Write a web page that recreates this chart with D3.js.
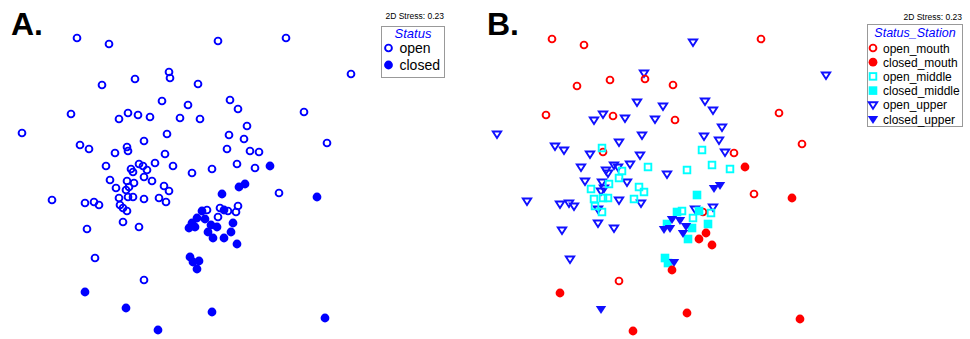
<!DOCTYPE html>
<html>
<head>
<meta charset="utf-8">
<script src="https://cdn.jsdelivr.net/npm/d3@7"></script>
<style>
  body { margin: 0; background: #fff; }
  svg { display: block; font-family: Arial, "Liberation Sans", sans-serif; }
</style>
</head>
<body>
<svg id="chart" width="970" height="339"></svg>
<script>
// NMDS ordination scores, one entry per sample
const nmds1 = [
  -1.13, -0.81, 0.28, 0.96, 1.61, -0.21, -0.20, -0.55, -0.88, 0.08,
  -0.28, -0.02, 0.40, 0.48, -1.19, -0.62, -0.71, -0.52, -0.40, -0.10,
  0.10, 1.14, -1.68, -0.23, 0.57, 0.39, 0.54, -1.10, -1.01, -0.63,
  -0.62, -0.46, -0.75, -0.25, -0.84, -0.59, -0.57, -0.51, -0.47, -0.35,
  -0.17, -0.43, -0.46, -0.80, -0.63, -0.56, -0.38, -0.74, -0.64, -0.61,
  -0.26, -0.21, -1.38, -1.05, -0.96, -0.91, -0.71, -0.62, -0.57, -0.46,
  -0.31, -0.24, -0.70, -0.67, -0.63, -0.67, -0.51, -1.03, -0.95, -0.46,
  0.37, 0.60, 0.69, 1.37, 0.22, 0.47, 0.65, 0.02, 0.89, 0.17,
  0.30, 0.38, 0.48, 0.46, 0.28,
  0.80, 1.27, 0.32, 0.49, 0.55, 0.12, 0.34, 0.07, 0.15, 0.02,
  -0.01, 0.05, 0.21, 0.27, 0.43, 0.18, 0.23, 0.34, 0.41, 0.47,
  0.00, 0.03, 0.09, 0.07, -1.05, -0.64, 0.22, 1.35, -0.32
];
const nmds2 = [
  1.37, 1.31, 1.34, 1.37, 1.01, 1.03, 0.97, 0.96, 0.90, 0.91,
  0.74, 0.70, 0.75, 0.66, 0.61, 0.62, 0.56, 0.60, 0.58, 0.57,
  0.56, 0.63, 0.42, 0.41, 0.49, 0.40, 0.36, 0.30, 0.26, 0.28,
  0.24, 0.34, 0.22, 0.21, 0.09, 0.06, 0.03, 0.11, 0.09, 0.12,
  0.09, 0.05, -0.02, -0.05, -0.06, -0.08, -0.06, -0.13, -0.15, -0.12,
  -0.11, -0.16, -0.25, -0.28, -0.27, -0.30, -0.23, -0.22, -0.22, -0.24,
  -0.23, -0.27, -0.30, -0.33, -0.36, -0.47, -0.52, -0.54, -0.83, -1.05,
  0.26, 0.24, 0.23, 0.32, 0.06, 0.11, 0.07, 0.02, -0.18, -0.35,
  -0.33, -0.36, -0.31, -0.37, -0.42,
  0.09, -0.22, -0.19, -0.12, -0.09, -0.36, -0.35, -0.43, -0.44, -0.48,
  -0.53, -0.52, -0.50, -0.52, -0.48, -0.57, -0.63, -0.63, -0.57, -0.69,
  -0.82, -0.87, -0.86, -0.94, -1.17, -1.33, -1.37, -1.43, -1.55
];
const status = d3.range(85).map(() => 'open').concat(d3.range(29).map(() => 'closed'));
const station = [
  'mouth', 'mouth', 'upper', 'mouth', 'upper', 'upper', 'mouth', 'mouth', 'mouth', 'mouth',
  'upper', 'upper', 'upper', 'upper', 'mouth', 'upper', 'upper', 'mouth', 'upper', 'upper',
  'mouth', 'mouth', 'upper', 'upper', 'upper', 'upper', 'upper', 'upper', 'upper', 'middle',
  'mouth', 'upper', 'upper', 'upper', 'upper', 'upper', 'upper', 'upper', 'upper', 'upper',
  'middle', 'middle', 'middle', 'upper', 'upper', 'middle', 'upper', 'middle', 'upper', 'upper',
  'middle', 'middle', 'upper', 'upper', 'upper', 'upper', 'middle', 'middle', 'middle', 'upper',
  'middle', 'upper', 'middle', 'upper', 'middle', 'upper', 'upper', 'upper', 'upper', 'mouth',
  'middle', 'upper', 'mouth', 'mouth', 'middle', 'middle', 'middle', 'upper', 'mouth', 'middle',
  'upper', 'mouth', 'upper', 'middle', 'middle',
  'mouth', 'mouth', 'middle', 'upper', 'upper', 'middle', 'middle', 'upper', 'upper', 'middle',
  'upper', 'upper', 'upper', 'middle', 'middle', 'upper', 'middle', 'mouth', 'mouth', 'mouth',
  'middle', 'middle', 'upper', 'mouth', 'mouth', 'upper', 'mouth', 'mouth', 'mouth'
];
const statusLevels = ['open', 'closed'];
const groupLevels = ['open_mouth', 'closed_mouth', 'open_middle', 'closed_middle', 'open_upper', 'closed_upper'];
const stressLabel = '2D Stress: 0.23';

const samples = nmds1.map((d, i) => ({
  x: d, y: nmds2[i], status: status[i], group: status[i] + '_' + station[i]
}));

const svg = d3.select('#chart');

const x = d3.scaleLinear().domain([-2, 2]).range([-10, 390]);
const y = d3.scaleLinear().domain([-1.6, 1.6]).range([335, 15]);

const colour = {mouth: '#ff0000', middle: '#00ffff', upper: '#1010ff'};

function drawMarker(sel, group, cx, cy) {
  const open = group.startsWith('open');
  const st = group.split('_')[1];
  const c = st ? colour[st] : '#0000ff';
  let m;
  if (!st || st == 'mouth') {
    m = sel.append('circle').attr('cx', cx).attr('cy', cy)
        .attr('r', open ? 3.4 : 4.4);
  } else if (st == 'middle') {
    const s = open ? 6.6 : 8.6;
    m = sel.append('rect').attr('x', cx - s / 2).attr('y', cy - s / 2)
        .attr('width', s).attr('height', s);
  } else {
    const s = open ? 4.2 : 5.2;
    m = sel.append('path')
        .attr('d', 'M' + (cx - s) + ',' + (cy - s * 0.6) + 'L' + (cx + s) + ',' +
          (cy - s * 0.6) + 'L' + cx + ',' + (cy + s * 0.95) + 'Z');
  }
  if (open) {
    m.attr('fill', 'none').attr('stroke', c).attr('stroke-width', 1.9);
  } else {
    m.attr('fill', c);
  }
}

// panel A
const gA = svg.append('g');
samples.forEach((d) => drawMarker(gA, d.status, x(d.x), y(d.y)));

gA.append('text').attr('x', 11).attr('y', 35)
    .style('font-size', '32px').style('font-weight', 'bold').text('A.');
gA.append('text').attr('x', 444).attr('y', 19).attr('text-anchor', 'end')
    .style('font-size', '8.5px').text(stressLabel);
gA.append('rect').attr('x', 381.5).attr('y', 26.5).attr('width', 63).attr('height', 51)
    .attr('fill', '#fff').attr('stroke', '#999').attr('stroke-width', 1);
gA.append('text').attr('x', 413).attr('y', 38).attr('text-anchor', 'middle')
    .style('font-size', '13px').style('font-style', 'italic').attr('fill', '#0000ff').text('Status');
statusLevels.forEach((s, i) => {
  drawMarker(gA, s, 388.5, 48 + i * 17);
  gA.append('text').attr('x', 399.5).attr('y', 53 + i * 17)
      .style('font-size', '14px').text(s);
});

// panel B
const gB = svg.append('g').attr('transform', 'translate(475,1)');
const order = ['open_upper', 'open_mouth', 'open_middle', 'closed_middle', 'closed_upper', 'closed_mouth'];
order.forEach((grp) => {
  samples.filter((d) => d.group == grp)
      .forEach((d) => drawMarker(gB, d.group, x(d.x), y(d.y)));
});

svg.append('text').attr('x', 487).attr('y', 35)
    .style('font-size', '32px').style('font-weight', 'bold').text('B.');
svg.append('text').attr('x', 962).attr('y', 20).attr('text-anchor', 'end')
    .style('font-size', '8.5px').text(stressLabel);
svg.append('rect').attr('x', 867.5).attr('y', 24.5).attr('width', 95).attr('height', 102)
    .attr('fill', '#fff').attr('stroke', '#999').attr('stroke-width', 1);
svg.append('text').attr('x', 915).attr('y', 37).attr('text-anchor', 'middle')
    .style('font-size', '12.5px').style('font-style', 'italic').attr('fill', '#0000ff').text('Status_Station');
groupLevels.forEach((g, i) => {
  drawMarker(svg, g, 873, 48 + i * 14.2);
  svg.append('text').attr('x', 883).attr('y', 52.5 + i * 14.2)
      .style('font-size', '12px').text(g);
});
</script>
</body>
</html>
